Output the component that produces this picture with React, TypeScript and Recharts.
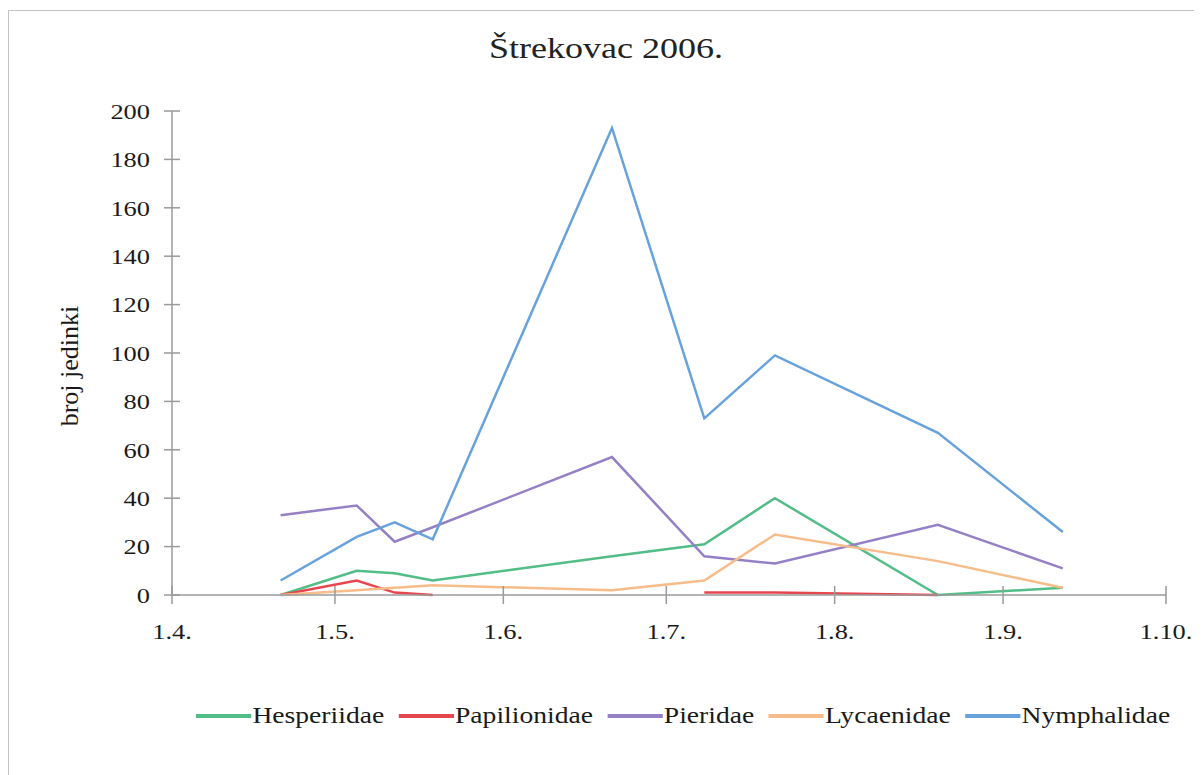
import React from "react"
import { LineChart, Line, XAxis, YAxis } from "recharts"

// sampling dates (day.month.) and counts per family
const DATES = ['21.4.', '5.5.', '12.5.', '19.5.', '21.6.', '8.7.', '21.7.', '20.8.', '12.9.']
const hesperiidae = [0, 10, 9, 6, 16, 21, 40, 0, 3]
const papilionidae = [0, 6, 1, 0, null, 1, 1, 0, null]
const pieridae = [33, 37, 22, 28, 57, 16, 13, 29, 11]
const lycaenidae = [0, 2, 3, 4, 2, 6, 25, 14, 3]
const nymphalidae = [6, 24, 30, 23, 193, 73, 99, 67, 26]

const MONTH_LABELS = ['1.4.', '1.5.', '1.6.', '1.7.', '1.8.', '1.9.', '1.10.']
const MONTH_LENGTHS = [30, 31, 30, 31, 31, 30]
const Y_TICKS = [0, 20, 40, 60, 80, 100, 120, 140, 160, 180, 200]

const SERIES = [
    { key: 'Hesperiidae', values: hesperiidae, color: '#52bd86' },
    { key: 'Papilionidae', values: papilionidae, color: '#e6474f' },
    { key: 'Pieridae', values: pieridae, color: '#9580c6' },
    { key: 'Lycaenidae', values: lycaenidae, color: '#f6bd8b' },
    { key: 'Nymphalidae', values: nymphalidae, color: '#68a2dc' },
]

const FONT = '"Liberation Serif", "Times New Roman", serif'
const AXIS_COLOR = '#9a9a9a'

// day offsets of each month start, counted from 1 April
const monthStarts = MONTH_LENGTHS.reduce((acc, len) => [...acc, acc[acc.length - 1] + len], [0])

const dayOf = (date: string) => {
    const [d, m] = date.split('.').map(Number)
    return monthStarts[m - 4] + d - 1
}

const chartData = DATES.map((date, i) => {
    const row: any = { day: dayOf(date) }
    SERIES.forEach(s => { row[s.key] = s.values[i] })
    return row
})

const YTick = (props: any) => {
    const { x, y, payload } = props
    return (
        <g>
            <line x1={x - 8} x2={x + 8} y1={y} y2={y} stroke={AXIS_COLOR} strokeWidth={1.5} />
            <g transform={`translate(${x - 22},${y}) scale(1.2,1)`}>
                <text textAnchor="end" dy="0.35em" fontSize={22} fontFamily={FONT} fill="#1a1a1a">
                    {payload.value}
                </text>
            </g>
        </g>
    )
}

const XTick = (props: any) => {
    const { x, y, payload } = props
    const idx = monthStarts.indexOf(payload.value)
    return (
        <g>
            <line x1={x} x2={x} y1={y - 9} y2={y + 9} stroke={AXIS_COLOR} strokeWidth={1.5} />
            <g transform={`translate(${x},${y + 44}) scale(1.2,1)`}>
                <text textAnchor="middle" fontSize={22} fontFamily={FONT} fill="#1a1a1a">
                    {MONTH_LABELS[idx]}
                </text>
            </g>
        </g>
    )
}

export default function App() {
    return (
        <div style={{ position: 'relative', width: 1194, height: 767, fontFamily: FONT }}>
            <div style={{
                position: 'absolute', left: 0, top: 2, width: 1200, height: 800,
                borderLeft: '1px solid #c4c4c4', borderTop: '1px solid #c4c4c4'
            }} />
            <div style={{
                position: 'absolute', left: 0, top: 25, width: 1196, textAlign: 'center',
                fontSize: 30, lineHeight: '30px', color: '#222', transform: 'scaleX(1.2)'
            }}>
                Štrekovac 2006.
            </div>
            <div style={{
                position: 'absolute', left: 62, top: 358, transform: 'translate(-50%, -50%) rotate(-90deg)',
                fontSize: 26, whiteSpace: 'nowrap', color: '#1a1a1a'
            }}>
                broj jedinki
            </div>
            <div style={{ position: 'absolute', left: 0, top: 0 }}>
                <LineChart width={1190} height={760} data={chartData}
                    margin={{ top: 103, right: 32, left: 104, bottom: 133 }}>
                    <XAxis
                        type="number"
                        dataKey="day"
                        domain={[0, monthStarts[monthStarts.length - 1]]}
                        ticks={monthStarts}
                        interval={0}
                        height={40}
                        tickSize={0}
                        tickMargin={0}
                        tickLine={false}
                        axisLine={{ stroke: AXIS_COLOR, strokeWidth: 1.5 }}
                        tick={<XTick />}
                    />
                    <YAxis
                        domain={[0, 200]}
                        ticks={Y_TICKS}
                        interval={0}
                        width={60}
                        tickSize={0}
                        tickMargin={0}
                        tickLine={false}
                        axisLine={{ stroke: AXIS_COLOR, strokeWidth: 1.5 }}
                        tick={<YTick />}
                    />
                    {SERIES.map(s => (
                        <Line
                            key={s.key}
                            type="linear"
                            dataKey={s.key}
                            stroke={s.color}
                            strokeWidth={2.5}
                            dot={false}
                            activeDot={false}
                            isAnimationActive={false}
                        />
                    ))}
                </LineChart>
            </div>
            <div style={{
                position: 'absolute', left: 188, top: 696, display: 'flex', alignItems: 'center',
                transform: 'scaleX(1.2)', transformOrigin: 'left center', fontSize: 23, lineHeight: '23px',
                color: '#1a1a1a', whiteSpace: 'nowrap'
            }}>
                {SERIES.map(s => (
                    <div key={s.key} style={{ display: 'flex', alignItems: 'center', marginRight: 12 }}>
                        <span style={{ display: 'inline-block', width: 46, height: 4, background: s.color }} />
                        <span style={{ marginLeft: 1 }}>{s.key}</span>
                    </div>
                ))}
            </div>
        </div>
    )
}
